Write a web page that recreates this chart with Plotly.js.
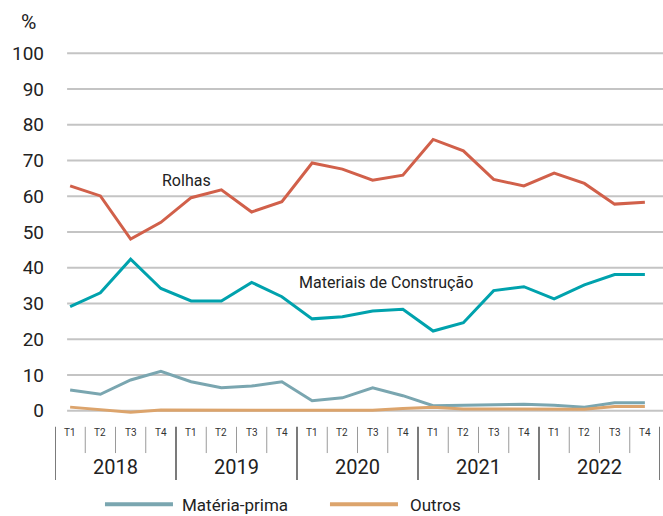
<!DOCTYPE html>
<html><head><meta charset="utf-8">
<script src="https://cdn.plot.ly/plotly-3.0.1.min.js"></script>
<style>html,body{margin:0;padding:0;background:#fff}#c{width:663px;height:516px}</style>
</head><body><div id="c"></div>
<script>
const years = ["2018","2019","2020","2021","2022"];
const quarters = ["T1","T2","T3","T4"];
const rolhas = [62.9,60.1,48.0,52.7,59.6,61.8,55.6,58.5,69.3,67.6,64.5,65.9,75.9,72.7,64.7,62.9,66.5,63.6,57.8,58.3];
const materiais = [29.1,33.0,42.4,34.2,30.7,30.7,35.9,31.9,25.7,26.3,27.9,28.4,22.3,24.6,33.6,34.7,31.3,35.2,38.1,38.1];
const materiaPrima = [5.8,4.6,8.6,11.0,8.1,6.4,6.9,8.1,2.8,3.6,6.4,4.2,1.4,1.5,1.7,1.8,1.5,1.0,2.2,2.2];
const outros = [1.0,0.3,-0.4,0.2,0.2,0.2,0.2,0.2,0.1,0.1,0.1,0.6,1.0,0.5,0.5,0.5,0.4,0.4,1.2,1.2];
const yTicks = [0,10,20,30,40,50,60,70,80,90,100];

const cats = [];
years.forEach(y => quarters.forEach(q => cats.push(y + " " + q)));

const font = "Roboto, 'DejaVu Sans', sans-serif";
const colors = {mp: "#7aa6b0", ou: "#dca46c", mc: "#00a2ad", ro: "#d1604a"};
const traces = [
  {x: cats, y: materiaPrima, name: "Matéria-prima", mode: "lines", line: {color: colors.mp, width: 3}},
  {x: cats, y: outros, name: "Outros", mode: "lines", line: {color: colors.ou, width: 3}},
  {x: cats, y: materiais, name: "Materiais de Construção", mode: "lines", line: {color: colors.mc, width: 3}},
  {x: cats, y: rolhas, name: "Rolhas", mode: "lines", line: {color: colors.ro, width: 3}}
];

const shapes = [];
const annotations = [];
// gridlines
yTicks.forEach(v => shapes.push({type: "line", xref: "paper", yref: "y", x0: 0.02, x1: 1.01, y0: v, y1: v, line: {color: "#c4c4c4", width: 2}, layer: "below"}));
// category axis dividers and labels
for (let i = 0; i < cats.length; i++) {
  const qi = i % 4;
  if (qi !== 0) {
    shapes.push({type: "line", xref: "x", yref: "paper", x0: i - 0.5, x1: i - 0.5, y0: -0.018, y1: -0.087, line: {color: "#9a9a9a", width: 1}});
  }
  annotations.push({xref: "x", yref: "paper", x: i, y: -0.032, text: quarters[qi], showarrow: false, yanchor: "middle", font: {family: font, size: 10, color: "#333"}});
}
for (let k = 0; k <= years.length; k++) {
  shapes.push({type: "line", xref: "x", yref: "paper", x0: k * 4 - 0.5, x1: k * 4 - 0.5, y0: -0.018, y1: -0.158, line: {color: "#333", width: 1.3}});
}
years.forEach((y, k) => annotations.push({xref: "x", yref: "paper", x: k * 4 + 1.5, y: -0.124, text: y, showarrow: false, yanchor: "middle", font: {family: font, size: 20, color: "#222"}}));
// series labels
annotations.push({xref: "x", yref: "y", x: 3.85, y: 64.3, text: "Rolhas", showarrow: false, font: {family: font, size: 16, color: "#222"}});
annotations.push({xref: "x", yref: "y", x: 10.43, y: 36.0, text: "Materiais de Construção", showarrow: false, font: {family: font, size: 16, color: "#222"}});
// unit
annotations.push({xref: "paper", yref: "paper", x: -0.043, y: 1.047, xanchor: "center", yanchor: "middle", text: "%", showarrow: false, font: {family: font, size: 21, color: "#222"}});
// legend (manual, long line samples as in the reference)
const legendItems = [
  {name: "Matéria-prima", color: colors.mp, x0: 0.0826, x1: 0.195, tx: 0.2066},
  {name: "Outros", color: colors.ou, x0: 0.4545, x1: 0.5669, tx: 0.5835}
];
legendItems.forEach(it => {
  shapes.push({type: "line", xref: "paper", yref: "paper", x0: it.x0, x1: it.x1, y0: -0.222, y1: -0.222, line: {color: it.color, width: 4}});
  annotations.push({xref: "paper", yref: "paper", x: it.tx, y: -0.2237, xanchor: "left", yanchor: "middle", text: it.name, showarrow: false, font: {family: font, size: 17, color: "#222"}});
});

const layout = {
  width: 663, height: 516,
  margin: {l: 55, r: 3, t: 40, b: 96, autoexpand: false},
  paper_bgcolor: "#fff", plot_bgcolor: "#fff",
  font: {family: font, color: "#222"},
  xaxis: {type: "category", range: [-0.5, 19.5], showticklabels: false, showgrid: false, zeroline: false, ticks: "", fixedrange: true},
  yaxis: {range: [-2.6, 103.72], tickvals: yTicks, showgrid: false, zeroline: false, ticks: "", ticklabelstandoff: 10, tickfont: {family: font, size: 19, color: "#222"}, fixedrange: true},
  showlegend: false,
  shapes: shapes, annotations: annotations
};
Plotly.newPlot("c", traces, layout, {staticPlot: true, displayModeBar: false});
</script></body></html>
